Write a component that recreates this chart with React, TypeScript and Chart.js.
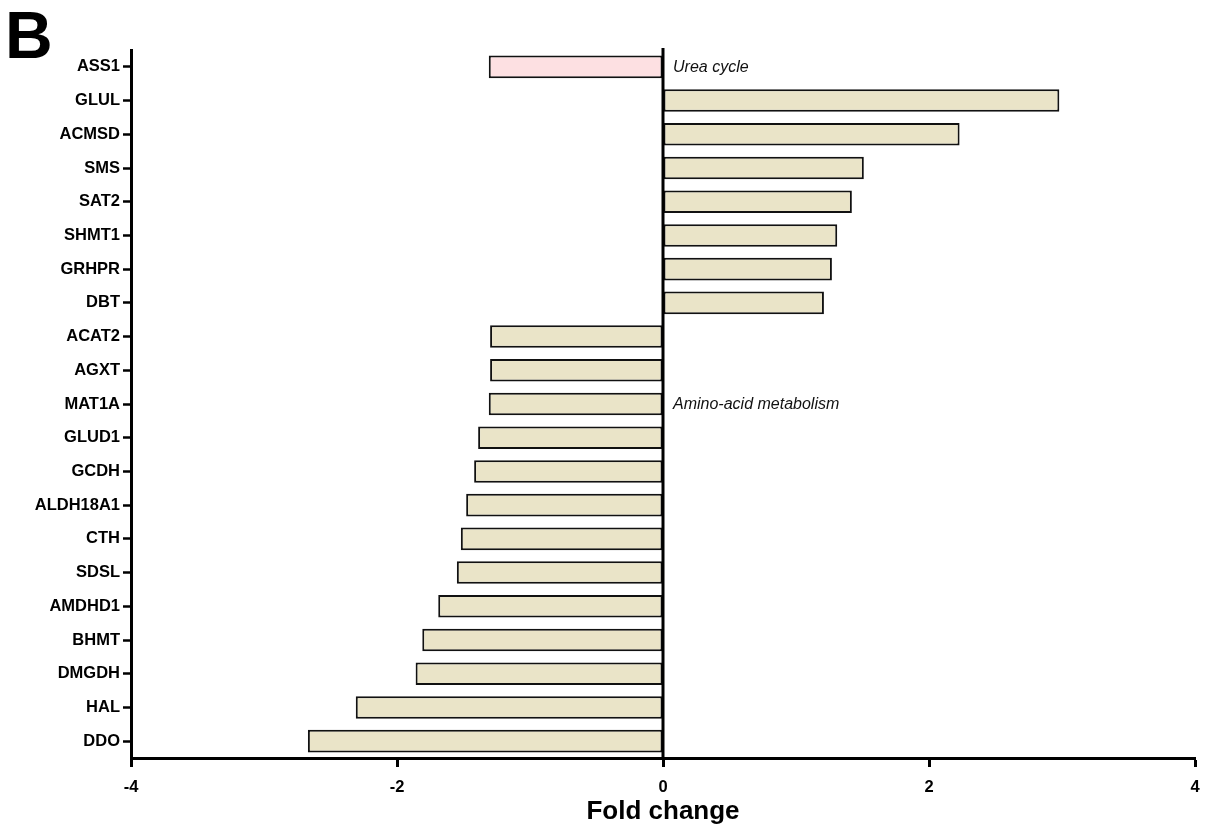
import React, { useEffect, useRef } from "react";
import { Chart, registerables } from "chart.js";

Chart.register(...registerables);

const genes = [
  "ASS1", "GLUL", "ACMSD", "SMS", "SAT2", "SHMT1", "GRHPR", "DBT",
  "ACAT2", "AGXT", "MAT1A", "GLUD1", "GCDH", "ALDH18A1", "CTH", "SDSL",
  "AMDHD1", "BHMT", "DMGDH", "HAL", "DDO",
];
const foldChange = [
  -1.31, 2.98, 2.23, 1.51, 1.42, 1.31, 1.27, 1.21,
  -1.3, -1.3, -1.31, -1.39, -1.42, -1.48, -1.52, -1.55,
  -1.69, -1.81, -1.86, -2.31, -2.67,
];
const groupOf = [
  "urea", "amino", "amino", "amino", "amino", "amino", "amino", "amino",
  "amino", "amino", "amino", "amino", "amino", "amino", "amino", "amino",
  "amino", "amino", "amino", "amino", "amino",
];
const groupColors: Record<string, string> = { urea: "#FDE0E2", amino: "#EAE4C8" };
const annotationLabels = ["Urea cycle", "Amino-acid metabolism"];
const annotationRows = ["ASS1", "MAT1A"];
const xTicks = [-4, -2, 0, 2, 4];
const panelLetter = "B";
const xTitle = "Fold change";

const FONT = "'Liberation Sans', Arial, Helvetica, sans-serif";

export default function App() {
  const ref = useRef<HTMLCanvasElement | null>(null);
  useEffect(() => {
    document.body.style.margin = "0";
    const annot = {
      id: "annot",
      afterDatasetsDraw(chart: any) {
        const ctx = chart.ctx;
        const xs = chart.scales.x;
        const area = chart.chartArea;
        const x0 = xs.getPixelForValue(0);
        ctx.save();
        ctx.strokeStyle = "#000";
        ctx.lineWidth = 3;
        ctx.beginPath();
        ctx.moveTo(x0, area.top - 2);
        ctx.lineTo(x0, area.bottom);
        ctx.stroke();
        ctx.restore();
      },
      afterDraw(chart: any) {
        const ctx = chart.ctx;
        const xs = chart.scales.x;
        const ys = chart.scales.y;
        ctx.save();
        ctx.fillStyle = "#111";
        ctx.font = `italic 16px ${FONT}`;
        ctx.textBaseline = "middle";
        ctx.textAlign = "left";
        annotationLabels.forEach((t, i) => {
          const idx = genes.indexOf(annotationRows[i]);
          ctx.fillText(t, xs.getPixelForValue(0) + 10, ys.getPixelForValue(idx) + 1);
        });
        ctx.fillStyle = "#000";
        ctx.font = `bold 66px ${FONT}`;
        ctx.textBaseline = "alphabetic";
        ctx.fillText(panelLetter, 5, 58);
        ctx.restore();
      },
    };
    const chart = new Chart(ref.current!, {
      type: "bar",
      data: {
        labels: genes,
        datasets: [
          {
            data: foldChange,
            backgroundColor: groupOf.map((g) => groupColors[g]),
            borderColor: "#111",
            borderWidth: 2,
            borderSkipped: false,
            categoryPercentage: 1,
            barPercentage: 0.67,
          },
        ],
      },
      options: {
        indexAxis: "y",
        animation: false,
        responsive: true,
        maintainAspectRatio: false,
        layout: { padding: { top: 50, right: 13, left: 0, bottom: 0 } },
        plugins: { legend: { display: false }, tooltip: { enabled: false } },
        scales: {
          x: {
            min: -4,
            max: 4,
            afterBuildTicks: (s: any) => {
              s.ticks = xTicks.map((v) => ({ value: v }));
            },
            afterFit: (s: any) => {
              s.height = 69;
              s.paddingLeft = 0;
              s.paddingRight = 0;
            },
            border: { color: "#000", width: 3 },
            grid: {
              drawOnChartArea: false,
              tickColor: "#000",
              tickWidth: 3,
              tickLength: 9,
            },
            ticks: {
              color: "#000",
              font: { family: FONT, size: 16.5, weight: "bold" },
              padding: 11,
            },
            title: {
              display: true,
              text: xTitle,
              color: "#000",
              font: { family: FONT, size: 26, weight: "bold" },
              padding: { top: 0, bottom: 0 },
            },
          },
          y: {
            afterFit: (s: any) => {
              s.width = 131;
            },
            border: { color: "#000", width: 3 },
            grid: {
              offset: false,
              drawOnChartArea: false,
              tickColor: "#000",
              tickWidth: 2.5,
              tickLength: 8,
            },
            ticks: {
              color: "#000",
              font: { family: FONT, size: 16.5, weight: "bold" },
              padding: 3,
              autoSkip: false,
            },
          },
        },
      },
      plugins: [annot],
    } as any);
    return () => chart.destroy();
  }, []);
  return (
    <div style={{ width: 1208, height: 827, position: "relative" }}>
      <canvas ref={ref} />
    </div>
  );
}
